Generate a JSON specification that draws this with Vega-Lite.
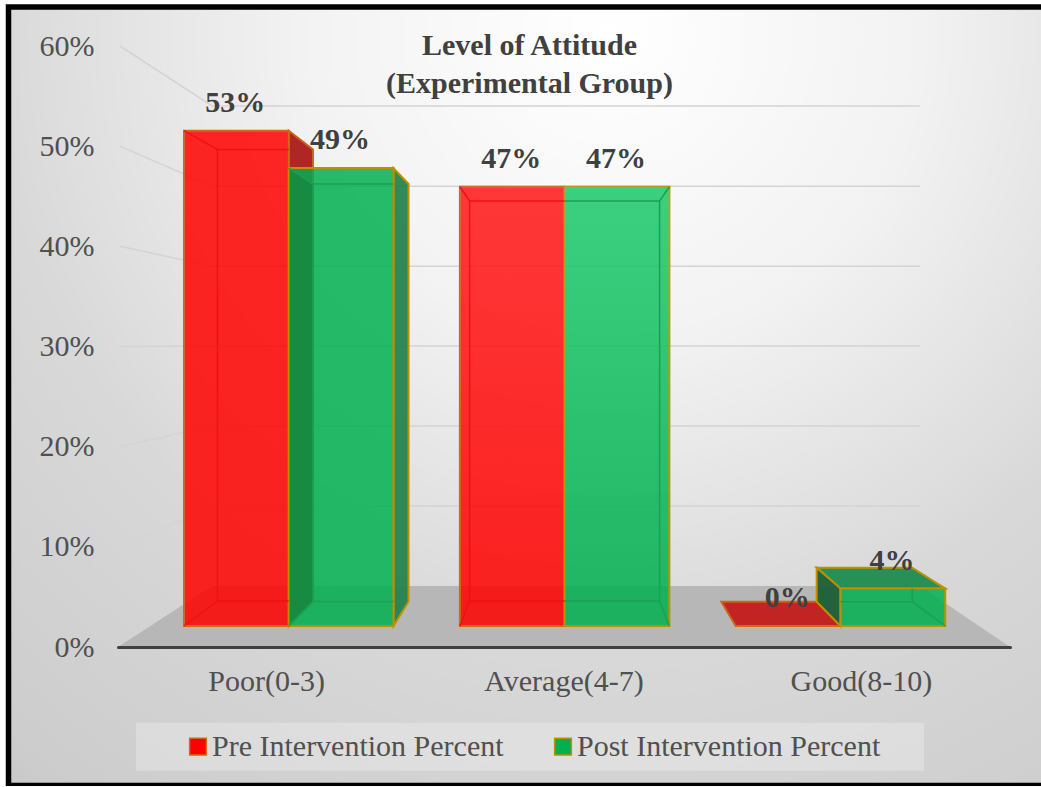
{
  "$schema": "https://vega.github.io/schema/vega-lite/v6.json",
  "autosize": {"type": "none"},
  "padding": {"left": 8.5, "top": 7, "right": 0, "bottom": 0},
  "width": 1036,
  "height": 778.5,
  "background": "#ffffff",
  "view": {
    "stroke": "#000000",
    "strokeWidth": 5.5,
    "fill": {
      "gradient": "radial",
      "x1": 0.58, "y1": 0.15, "r1": 0,
      "x2": 0.58, "y2": 0.15, "r2": 1,
      "stops": [
        {"offset": 0, "color": "#ffffff"},
        {"offset": 0.3, "color": "#f2f2f2"},
        {"offset": 0.6, "color": "#d8d8d8"},
        {"offset": 0.9, "color": "#cccccc"},
        {"offset": 1, "color": "#c0c0c0"}
      ]
    }
  },
  "title": {
    "text": ["Level of Attitude", "(Experimental Group)"],
    "anchor": "middle",
    "frame": "group",
    "orient": "top",
    "offset": -92,
    "dx": 3,
    "font": "Liberation Serif",
    "fontSize": 30,
    "fontWeight": "bold",
    "lineHeight": 38,
    "color": "#404040"
  },
  "datasets": {
    "bars": [
      {"category": "Poor(0-3)", "series": "Pre Intervention Percent", "bar": "poor-pre", "value": 0.53},
      {"category": "Poor(0-3)", "series": "Post Intervention Percent", "bar": "poor-post", "value": 0.49},
      {"category": "Average(4-7)", "series": "Pre Intervention Percent", "bar": "average-pre", "value": 0.47},
      {"category": "Average(4-7)", "series": "Post Intervention Percent", "bar": "average-post", "value": 0.47},
      {"category": "Good(8-10)", "series": "Pre Intervention Percent", "bar": "good-pre", "value": 0},
      {"category": "Good(8-10)", "series": "Post Intervention Percent", "bar": "good-post", "value": 0.04}
    ],
    "ticks": [
      {"tick": 0}, {"tick": 0.1}, {"tick": 0.2}, {"tick": 0.3}, {"tick": 0.4}, {"tick": 0.5}, {"tick": 0.6}
    ]
  },
  "resolve": {
    "scale": {"x": "independent", "y": "independent", "xOffset": "independent", "fill": "independent", "stroke": "independent", "shape": "independent"},
    "axis": {"x": "independent", "y": "independent"},
    "legend": {"fill": "independent", "stroke": "independent", "shape": "independent"}
  },
  "layer": [
    {
      "data": {"name": "ticks"},
      "encoding": {
        "x": {
          "datum": "Poor(0-3)",
          "type": "nominal",
          "scale": {"type": "band", "domain": ["Poor(0-3)", "Average(4-7)", "Good(8-10)"], "range": [109.5, 1001.5], "paddingInner": 0, "paddingOuter": 0},
          "axis": {
            "title": null, "orient": "bottom", "offset": -138.5, "zindex": 1,
            "domainColor": "#404040", "domainWidth": 3, "domainCap": "round",
            "ticks": false, "labelPadding": 19, "labelAngle": 0,
            "labelFont": "Liberation Serif", "labelFontSize": 30, "labelColor": "#505050"
          }
        },
        "y": {
          "field": "tick",
          "type": "quantitative",
          "scale": {"domain": [0, 0.6], "range": [640, 39], "nice": false},
          "axis": {
            "title": null, "orient": "left", "offset": -85.5, "grid": false, "domain": false, "ticks": false,
            "values": [0, 0.1, 0.2, 0.3, 0.4, 0.5, 0.6], "format": ".0%", "labelPadding": 0,
            "labelFont": "Liberation Serif", "labelFontSize": 30, "labelColor": "#505050"
          }
        }
      },
      "layer": [
        {
          "transform": [{"filter": "datum.tick === 0"}],
          "mark": {
            "type": "point", "filled": true, "size": 4, "opacity": 1, "fill": "#b7b7b7", "stroke": null,
            "shape": "M-148.7,0L-54.7,-61L653.3,-61L743.3,0Z"
          }
        },
        {
          "transform": [{"filter": "datum.tick > 0"}],
          "mark": {"type": "point", "filled": false, "size": 4, "opacity": 1, "stroke": "#d4d4d4", "strokeWidth": 1.5},
          "encoding": {
            "shape": {
              "field": "tick",
              "type": "nominal",
              "legend": null,
              "scale": {
                "domain": [0.1, 0.2, 0.3, 0.4, 0.5, 0.6],
                "range": [
                  "M-146.7,0L-54.7,-40.8L653.3,-40.8",
                  "M-146.7,0L-54.7,-20.6L653.3,-20.6",
                  "M-146.7,0L-54.7,-0.4L653.3,-0.4",
                  "M-146.7,0L-54.7,19.8L653.3,19.8",
                  "M-146.7,0L-54.7,40L653.3,40",
                  "M-146.7,0L-54.7,60L653.3,60"
                ]
              }
            }
          }
        }
      ]
    },
    {
      "data": {"name": "bars"},
      "transform": [{"filter": {"field": "bar", "oneOf": ["good-pre", "good-post"]}}],
      "mark": {"type": "point", "filled": true, "size": 4, "opacity": 1, "fillOpacity": 0.95, "strokeWidth": 2},
      "encoding": {
        "x": {"field": "category", "type": "nominal", "axis": null, "scale": {"type": "band", "domain": ["Poor(0-3)", "Average(4-7)", "Good(8-10)"], "range": [142.3, 969.95], "paddingInner": 0.2407, "paddingOuter": 0.12035}},
        "xOffset": {"field": "series", "type": "nominal", "scale": {"domain": ["Pre Intervention Percent", "Post Intervention Percent"], "padding": 0.5}},
        "y": {"field": "value", "type": "quantitative", "axis": null, "scale": {"domain": [0, 0.6], "range": [619, 58.3], "nice": false}},
        "fill": {"field": "bar", "type": "nominal", "legend": null, "scale": {"domain": ["good-pre", "good-post"], "range": ["#c21a1a", "#1f8c50"]}},
        "stroke": {"field": "bar", "type": "nominal", "legend": null, "scale": {"domain": ["good-pre", "good-post"], "range": ["#c8641a", "#bf9000"]}},
        "shape": {"field": "bar", "type": "nominal", "legend": null, "scale": {"domain": ["good-pre", "good-post"], "range": ["M-52.4,0L52.4,0L28.6,-24.3L-66.8,-24.3Z", "M-52.4,0L52.4,0L19.4,-20.9L-76.2,-20.9Z"]}}
      }
    },
    {
      "data": {"name": "bars"},
      "transform": [{"filter": {"field": "bar", "oneOf": ["poor-pre", "poor-post", "good-post"]}}],
      "mark": {"type": "point", "filled": true, "size": 4, "opacity": 1, "fillOpacity": 0.92, "strokeWidth": 2},
      "encoding": {
        "x": {"field": "category", "type": "nominal", "axis": null, "scale": {"type": "band", "domain": ["Poor(0-3)", "Average(4-7)", "Good(8-10)"], "range": [142.3, 969.95], "paddingInner": 0.2407, "paddingOuter": 0.12035}},
        "xOffset": {"field": "series", "type": "nominal", "scale": {"domain": ["Pre Intervention Percent", "Post Intervention Percent"], "padding": 0.5}},
        "y": {"field": "value", "type": "quantitative", "axis": null, "scale": {"domain": [0, 0.6], "range": [619, 58.3], "nice": false}},
        "fill": {"field": "bar", "type": "nominal", "legend": null, "scale": {"domain": ["poor-pre", "poor-post", "good-post"], "range": ["#aa1515", "#1f8049", "#165a33"]}},
        "stroke": {"field": "bar", "type": "nominal", "legend": null, "scale": {"domain": ["poor-pre", "poor-post", "good-post"], "range": ["#c8641a", "#bf9000", "#bf9000"]}},
        "shape": {"field": "bar", "type": "nominal", "legend": null, "scale": {"domain": ["poor-pre", "poor-post", "good-post"], "range": ["M52.4,0L76.6,18.8L76.6,470.3L52.4,495.3Z", "M52.4,0L67.4,15.9L67.4,433.4L52.4,457.9Z", "M-52.4,0L-76.2,-20.9L-76.2,13.1L-52.4,37.4Z"]}}
      }
    },
    {
      "data": {"name": "bars"},
      "mark": {"type": "bar", "fillOpacity": 0.85, "strokeWidth": 2},
      "encoding": {
        "x": {"field": "category", "type": "nominal", "axis": null, "scale": {"type": "band", "domain": ["Poor(0-3)", "Average(4-7)", "Good(8-10)"], "range": [142.3, 969.95], "paddingInner": 0.2407, "paddingOuter": 0.12035}},
        "xOffset": {"field": "series", "type": "nominal", "scale": {"domain": ["Pre Intervention Percent", "Post Intervention Percent"], "paddingInner": 0, "paddingOuter": 0}},
        "y": {"field": "value", "type": "quantitative", "axis": null, "scale": {"domain": [0, 0.6], "range": [619, 58.3], "nice": false}},
        "fill": {
          "field": "series", "type": "nominal",
          "scale": {"domain": ["Pre Intervention Percent", "Post Intervention Percent"], "range": ["#ff0000", "#00b050"]},
          "legend": {
            "title": "\u00a0", "titleOrient": "right", "titlePadding": 35, "titleFontSize": 6,
            "orient": "none", "legendX": 127.5, "legendY": 715.7, "direction": "horizontal", "columns": 2, "gridAlign": "each",
            "fillColor": "#ffffff40", "padding": 9, "symbolType": "square", "symbolSize": 280, "symbolStrokeWidth": 1.5, "symbolOpacity": 1,
            "symbolOffset": 38, "labelOffset": -1, "columnPadding": 6,
            "labelFont": "Liberation Serif", "labelFontSize": 30, "labelColor": "#505050", "labelLimit": 400
          }
        },
        "stroke": {
          "field": "series", "type": "nominal",
          "scale": {"domain": ["Pre Intervention Percent", "Post Intervention Percent"], "range": ["#cf6a1a", "#bf9000"]}
        }
      }
    },
    {
      "data": {"name": "bars"},
      "transform": [{"filter": {"field": "bar", "oneOf": ["average-pre"]}}],
      "mark": {
        "type": "bar",
        "fill": {"gradient": "linear", "x1": 0, "y1": 0, "x2": 0, "y2": 1, "stops": [{"offset": 0, "color": "rgba(255,128,128,0.2)"}, {"offset": 0.85, "color": "rgba(255,128,128,0)"}]}
      },
      "encoding": {
        "x": {"field": "category", "type": "nominal", "axis": null, "scale": {"type": "band", "domain": ["Poor(0-3)", "Average(4-7)", "Good(8-10)"], "range": [142.3, 969.95], "paddingInner": 0.2407, "paddingOuter": 0.12035}},
        "xOffset": {"field": "series", "type": "nominal", "scale": {"domain": ["Pre Intervention Percent", "Post Intervention Percent"], "paddingInner": 0, "paddingOuter": 0}},
        "y": {"field": "value", "type": "quantitative", "axis": null, "scale": {"domain": [0, 0.6], "range": [619, 58.3], "nice": false}}
      }
    },
    {
      "data": {"name": "bars"},
      "transform": [{"filter": {"field": "bar", "oneOf": ["average-post"]}}],
      "mark": {
        "type": "bar",
        "fill": {"gradient": "linear", "x1": 0, "y1": 0, "x2": 0, "y2": 1, "stops": [{"offset": 0, "color": "rgba(90,240,160,0.4)"}, {"offset": 0.85, "color": "rgba(90,240,160,0)"}]}
      },
      "encoding": {
        "x": {"field": "category", "type": "nominal", "axis": null, "scale": {"type": "band", "domain": ["Poor(0-3)", "Average(4-7)", "Good(8-10)"], "range": [142.3, 969.95], "paddingInner": 0.2407, "paddingOuter": 0.12035}},
        "xOffset": {"field": "series", "type": "nominal", "scale": {"domain": ["Pre Intervention Percent", "Post Intervention Percent"], "paddingInner": 0, "paddingOuter": 0}},
        "y": {"field": "value", "type": "quantitative", "axis": null, "scale": {"domain": [0, 0.6], "range": [619, 58.3], "nice": false}}
      }
    },
    {
      "data": {"name": "bars"},
      "transform": [{"filter": {"field": "bar", "oneOf": ["poor-post"]}}],
      "mark": {"type": "point", "filled": true, "size": 4, "opacity": 1, "fill": "#000000", "fillOpacity": 0.1, "stroke": null, "shape": "M-52.4,0L-28.1,15.9L-28.1,433.4L-52.4,457.9Z"},
      "encoding": {
        "x": {"field": "category", "type": "nominal", "axis": null, "scale": {"type": "band", "domain": ["Poor(0-3)", "Average(4-7)", "Good(8-10)"], "range": [142.3, 969.95], "paddingInner": 0.2407, "paddingOuter": 0.12035}},
        "xOffset": {"field": "series", "type": "nominal", "scale": {"domain": ["Pre Intervention Percent", "Post Intervention Percent"], "padding": 0.5}},
        "y": {"field": "value", "type": "quantitative", "axis": null, "scale": {"domain": [0, 0.6], "range": [619, 58.3], "nice": false}}
      }
    },
    {
      "data": {"name": "bars"},
      "transform": [{"filter": "datum.value > 0"}],
      "mark": {"type": "point", "filled": false, "size": 4, "opacity": 1, "strokeWidth": 1.5},
      "encoding": {
        "x": {"field": "category", "type": "nominal", "axis": null, "scale": {"type": "band", "domain": ["Poor(0-3)", "Average(4-7)", "Good(8-10)"], "range": [142.3, 969.95], "paddingInner": 0.2407, "paddingOuter": 0.12035}},
        "xOffset": {"field": "series", "type": "nominal", "scale": {"domain": ["Pre Intervention Percent", "Post Intervention Percent"], "padding": 0.5}},
        "y": {"field": "value", "type": "quantitative", "axis": null, "scale": {"domain": [0, 0.6], "range": [619, 58.3], "nice": false}},
        "stroke": {"field": "series", "type": "nominal", "legend": null, "scale": {"domain": ["Pre Intervention Percent", "Post Intervention Percent"], "range": ["#ee1212", "#1c9f54"]}},
        "shape": {
          "field": "bar", "type": "nominal", "legend": null,
          "scale": {
            "domain": ["poor-pre", "poor-post", "average-pre", "average-post", "good-post"],
            "range": [
              "M-52.4,0L-18.9,18.8L52.4,18.8M-18.9,18.8L-18.9,470.3L52.4,470.3M-18.9,470.3L-52.4,495.3",
              "M-52.4,0L-28.1,15.9L52.4,15.9M-28.1,15.9L-28.1,433.4L52.4,433.4M-28.1,433.4L-52.4,457.9",
              "M-52.4,0L-42.6,14.2L52.4,14.2M-42.6,14.2L-42.6,414.2L52.4,414.2M-42.6,414.2L-52.4,439.2",
              "M52.4,0L42.6,14.2L-52.4,14.2M42.6,14.2L42.6,414.2L-52.4,414.2M42.6,414.2L52.4,439.2",
              "M19.4,0L19.4,13.1L-52.4,13.1M19.4,13.1L52.4,37.4"
            ]
          }
        }
      }
    },
    {
      "data": {"name": "bars"},
      "mark": {"type": "text", "yOffset": -28, "dx": -1, "baseline": "middle", "align": "center", "font": "Liberation Serif", "fontSize": 30, "fontWeight": "bold", "color": "#404040"},
      "encoding": {
        "x": {"field": "category", "type": "nominal", "axis": null, "scale": {"type": "band", "domain": ["Poor(0-3)", "Average(4-7)", "Good(8-10)"], "range": [142.3, 969.95], "paddingInner": 0.2407, "paddingOuter": 0.12035}},
        "xOffset": {"field": "series", "type": "nominal", "scale": {"domain": ["Pre Intervention Percent", "Post Intervention Percent"], "padding": 0.5}},
        "y": {"field": "value", "type": "quantitative", "axis": null, "scale": {"domain": [0, 0.6], "range": [619, 58.3], "nice": false}},
        "text": {"field": "value", "type": "quantitative", "format": ".0%"}
      }
    }
  ]
}
